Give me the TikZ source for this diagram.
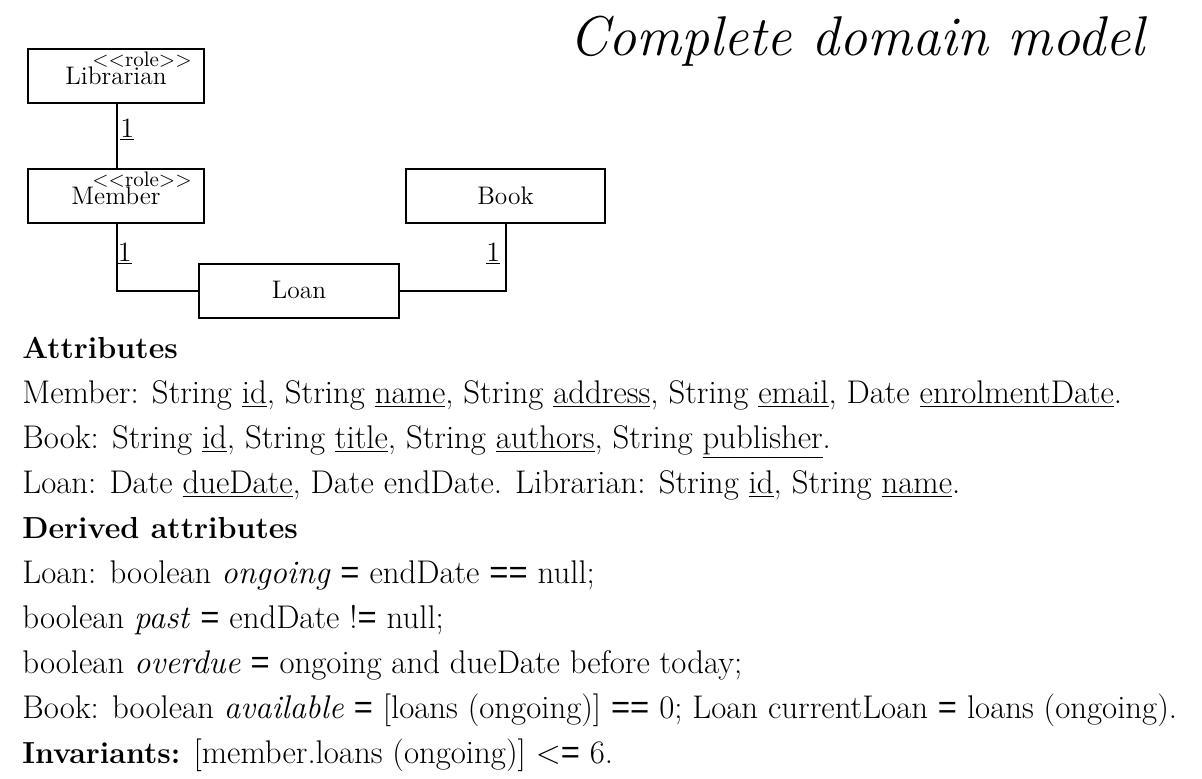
\documentclass[tikz,border=0pt]{standalone}
\usepackage{fontspec}
\newfontfamily\eqsymfont{Liberation Sans}
% equals sign set in a sans face, as in the attribute formulas
\newcommand{\eqs}{{\eqsymfont =}}
\usetikzlibrary{positioning}
\begin{document}
\begin{tikzpicture}[x=0.5pt,y=-0.5pt,
  cls/.style={draw,line width=1pt,minimum width=#1,minimum height=27pt,inner sep=0pt},
  assoc/.style={line width=1pt},
  stereo/.style={font=\fontsize{10.5}{10.5}\selectfont,anchor=base,inner sep=0pt},
  cname/.style={font=\fontsize{12.7}{12.7}\selectfont,anchor=base,inner sep=0pt},
  mult/.style={font=\fontsize{14}{14}\selectfont,anchor=base west,inner sep=0pt},
  head/.style={font=\fontsize{15.2}{15.2}\selectfont\bfseries,anchor=base west,inner sep=0pt},
  txt/.style={font=\fontsize{16.4}{16.4}\selectfont,anchor=base west,inner sep=0pt}]
\useasboundingbox (0,0) rectangle (1202,778);

% title
\node[font=\fontsize{28}{28}\selectfont\itshape,anchor=base east,inner sep=0pt] (title) at (1145,55) {Complete domain model};

% classes
\node[cls=88pt] (librarian) at (116,76) {};
\node[stereo] (libst) at (142,66) {<{}<role>{}>};
\node[cname] (libnm) at (116,84) {Librarian};

\node[cls=88pt] (member) at (116,196) {};
\node[stereo] (memst) at (142,186) {<{}<role>{}>};
\node[cname] (memnm) at (116,204) {Member};

\node[cls=99.5pt] (book) at (505.5,196) {};
\node[cname] (booknm) at (505.5,204) {Book};

\node[cls=100pt] (loan) at (299,290.5) {};
\node[cname] (loannm) at (299,298) {Loan};

% associations
\coordinate (mcorner) at (117,290.5);
\coordinate (bcorner) at (506,290.5);
\draw[assoc] (librarian.south -| 117,0) -- (member.north -| 117,0);
\draw[assoc] (member.south -| mcorner) -- (mcorner) -- (loan.west);
\draw[assoc] (loan.east) -- (bcorner) -- (book.south -| bcorner);

\node[mult] (m1) at (120,137) {\underline{1}};
\node[mult] (m2) at (117.5,261) {\underline{1}};
\node[mult] (m3) at (486,261) {\underline{1}};

% textual part
\node[head] (t1) at (22,358) {Attributes};
\node[txt] (t2) at (22,403) {Member: String \underline{id}, String \underline{name}, String \underline{address}, String \underline{email}, Date \underline{enrolmentDate}.};
\node[txt] (t3) at (22,448) {Book: String \underline{id}, String \underline{title}, String \underline{authors}, String \underline{publisher}.};
\node[txt] (t4) at (22,493) {Loan: Date \underline{dueDate}, Date endDate. Librarian: String \underline{id}, String \underline{name}.};
\node[head] (t5) at (22,538) {Derived attributes};
\node[txt] (t6) at (22,583) {Loan: boolean \textit{ongoing} \eqs{} endDate \eqs\eqs{} null;};
\node[txt] (t7) at (22,628) {boolean \textit{past} \eqs{} endDate !\eqs{} null;};
\node[txt] (t8) at (22,673) {boolean \textit{overdue} \eqs{} ongoing and dueDate before today;};
\node[txt] (t9) at (22,718) {Book: boolean \textit{available} \eqs{} [loans (ongoing)] \eqs\eqs{} 0; Loan currentLoan \eqs{} loans (ongoing).};
\node[txt] (t10) at (22,763) {{\fontsize{15.2}{15.2}\selectfont\bfseries Invariants:} [member.loans (ongoing)] <\eqs{} 6.};
\end{tikzpicture}
\end{document}
